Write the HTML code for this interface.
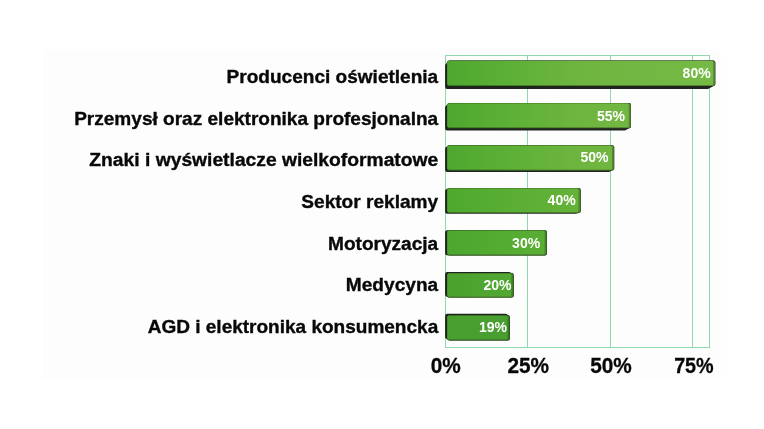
<!DOCTYPE html>
<html lang="pl"><head><meta charset="utf-8"><title>Wykres</title>
<style>
html,body{margin:0;padding:0;background:#fff;}
body{width:764px;height:429px;overflow:hidden;}
svg{display:block;}
text{font-family:"Liberation Sans",sans-serif;font-weight:bold;}
.lab{font-size:18.5px;fill:#080808;stroke:#080808;stroke-width:.35px;text-anchor:end;}
.val{font-size:15.1px;fill:#fff;text-anchor:end;}
.ax{font-size:21.6px;fill:#080808;stroke:#080808;stroke-width:.3px;text-anchor:middle;}
</style></head><body>
<svg width="764" height="429" viewBox="0 0 764 429">
<rect width="764" height="429" fill="#fff"/>
<rect x="42.5" y="49.5" width="678.5" height="329" fill="#fdfdfd"/>
<defs>
<linearGradient id="g0" x1="0" x2="1" y1="0" y2="0"><stop offset="0.000" stop-color="#4fa72f"/><stop offset="0.032" stop-color="#50a830"/><stop offset="0.234" stop-color="#5db036"/><stop offset="0.495" stop-color="#6eb53f"/><stop offset="0.809" stop-color="#74b844"/><stop offset="1.000" stop-color="#76ba46"/></linearGradient>
<linearGradient id="r0" x1="0" x2="1" y1="0" y2="0"><stop offset="0.000" stop-color="#3c7f24"/><stop offset="0.032" stop-color="#3d8024"/><stop offset="0.234" stop-color="#478629"/><stop offset="0.495" stop-color="#548a30"/><stop offset="0.809" stop-color="#588c34"/><stop offset="1.000" stop-color="#5a8d35"/></linearGradient>
<linearGradient id="o0" x1="0" x2="1" y1="0" y2="0"><stop offset="0.000" stop-color="#2b5c1a"/><stop offset="0.032" stop-color="#2c5c1a"/><stop offset="0.234" stop-color="#33611e"/><stop offset="0.495" stop-color="#3d6423"/><stop offset="0.809" stop-color="#406525"/><stop offset="1.000" stop-color="#416626"/></linearGradient>
<linearGradient id="g1" x1="0" x2="1" y1="0" y2="0"><stop offset="0.000" stop-color="#4fa72f"/><stop offset="0.047" stop-color="#50a830"/><stop offset="0.341" stop-color="#5db036"/><stop offset="0.722" stop-color="#6eb53f"/><stop offset="1.000" stop-color="#72b742"/></linearGradient>
<linearGradient id="r1" x1="0" x2="1" y1="0" y2="0"><stop offset="0.000" stop-color="#3c7f24"/><stop offset="0.047" stop-color="#3d8024"/><stop offset="0.341" stop-color="#478629"/><stop offset="0.722" stop-color="#548a30"/><stop offset="1.000" stop-color="#568b32"/></linearGradient>
<linearGradient id="o1" x1="0" x2="1" y1="0" y2="0"><stop offset="0.000" stop-color="#2b5c1a"/><stop offset="0.047" stop-color="#2c5c1a"/><stop offset="0.341" stop-color="#33611e"/><stop offset="0.722" stop-color="#3d6423"/><stop offset="1.000" stop-color="#3f6524"/></linearGradient>
<linearGradient id="g2" x1="0" x2="1" y1="0" y2="0"><stop offset="0.000" stop-color="#4fa72f"/><stop offset="0.052" stop-color="#50a830"/><stop offset="0.376" stop-color="#5db036"/><stop offset="0.795" stop-color="#6eb53f"/><stop offset="1.000" stop-color="#70b641"/></linearGradient>
<linearGradient id="r2" x1="0" x2="1" y1="0" y2="0"><stop offset="0.000" stop-color="#3c7f24"/><stop offset="0.052" stop-color="#3d8024"/><stop offset="0.376" stop-color="#478629"/><stop offset="0.795" stop-color="#548a30"/><stop offset="1.000" stop-color="#558a31"/></linearGradient>
<linearGradient id="o2" x1="0" x2="1" y1="0" y2="0"><stop offset="0.000" stop-color="#2b5c1a"/><stop offset="0.052" stop-color="#2c5c1a"/><stop offset="0.376" stop-color="#33611e"/><stop offset="0.795" stop-color="#3d6423"/><stop offset="1.000" stop-color="#3e6424"/></linearGradient>
<linearGradient id="g3" x1="0" x2="1" y1="0" y2="0"><stop offset="0.000" stop-color="#4fa82e"/><stop offset="0.065" stop-color="#50a92f"/><stop offset="0.470" stop-color="#59ae33"/><stop offset="0.995" stop-color="#65b239"/><stop offset="1.000" stop-color="#65b239"/></linearGradient>
<linearGradient id="r3" x1="0" x2="1" y1="0" y2="0"><stop offset="0.000" stop-color="#3c8023"/><stop offset="0.065" stop-color="#3d8023"/><stop offset="0.470" stop-color="#438427"/><stop offset="0.995" stop-color="#4d872b"/><stop offset="1.000" stop-color="#4d872b"/></linearGradient>
<linearGradient id="o3" x1="0" x2="1" y1="0" y2="0"><stop offset="0.000" stop-color="#2b5c19"/><stop offset="0.065" stop-color="#2c5d1a"/><stop offset="0.470" stop-color="#31601c"/><stop offset="0.995" stop-color="#37621f"/><stop offset="1.000" stop-color="#37621f"/></linearGradient>
<linearGradient id="g4" x1="0" x2="1" y1="0" y2="0"><stop offset="0.000" stop-color="#4da72e"/><stop offset="0.087" stop-color="#4ea82f"/><stop offset="0.630" stop-color="#55ac32"/><stop offset="1.000" stop-color="#5aad34"/></linearGradient>
<linearGradient id="r4" x1="0" x2="1" y1="0" y2="0"><stop offset="0.000" stop-color="#3b7f23"/><stop offset="0.087" stop-color="#3b7f23"/><stop offset="0.630" stop-color="#408326"/><stop offset="1.000" stop-color="#448428"/></linearGradient>
<linearGradient id="o4" x1="0" x2="1" y1="0" y2="0"><stop offset="0.000" stop-color="#2a5c19"/><stop offset="0.087" stop-color="#2b5c1a"/><stop offset="0.630" stop-color="#2f5f1b"/><stop offset="1.000" stop-color="#315f1d"/></linearGradient>
<linearGradient id="g5" x1="0" x2="1" y1="0" y2="0"><stop offset="0.000" stop-color="#4ba32e"/><stop offset="0.131" stop-color="#4ba32e"/><stop offset="0.944" stop-color="#51a731"/><stop offset="1.000" stop-color="#51a731"/></linearGradient>
<linearGradient id="r5" x1="0" x2="1" y1="0" y2="0"><stop offset="0.000" stop-color="#397c23"/><stop offset="0.131" stop-color="#397c23"/><stop offset="0.944" stop-color="#3d7f25"/><stop offset="1.000" stop-color="#3e7f25"/></linearGradient>
<linearGradient id="o5" x1="0" x2="1" y1="0" y2="0"><stop offset="0.000" stop-color="#295a19"/><stop offset="0.131" stop-color="#295a1a"/><stop offset="0.944" stop-color="#2c5c1b"/><stop offset="1.000" stop-color="#2d5c1b"/></linearGradient>
<linearGradient id="g6" x1="0" x2="1" y1="0" y2="0"><stop offset="0.000" stop-color="#489e2e"/><stop offset="0.139" stop-color="#489e2e"/><stop offset="1.000" stop-color="#489e2e"/></linearGradient>
<linearGradient id="r6" x1="0" x2="1" y1="0" y2="0"><stop offset="0.000" stop-color="#377823"/><stop offset="0.139" stop-color="#377823"/><stop offset="1.000" stop-color="#377823"/></linearGradient>
<linearGradient id="o6" x1="0" x2="1" y1="0" y2="0"><stop offset="0.000" stop-color="#285719"/><stop offset="0.139" stop-color="#285719"/><stop offset="1.000" stop-color="#285719"/></linearGradient>
</defs>
<g fill="#92d6aa" shape-rendering="crispEdges">
<rect x="445" y="55" width="265" height="1"/>
<rect x="445" y="347" width="265" height="1"/>
<rect x="445" y="55" width="1" height="293"/>
<rect x="527" y="55" width="1" height="293"/>
<rect x="610" y="55" width="1" height="293"/>
<rect x="692" y="55" width="1" height="293"/>
<rect x="709" y="55" width="1" height="293"/>
</g>
<polygon points="447.1,65.7 449.3,62.6 713.3,62.6 713.3,84.0 707.5,87.1 447.1,87.1" fill="#20241f" stroke="#20241f" stroke-width="4.0" stroke-linejoin="round"/>
<rect x="447.3" y="60.6" width="268.0" height="25.4" rx="2.0" fill="url(#o0)"/>
<rect x="447.3" y="60.9" width="267.3" height="24.8" rx="1.8" fill="url(#r0)"/>
<rect x="447.3" y="61.1" width="265.7" height="23.8" rx="1.5" fill="url(#g0)"/>
<g transform="translate(438.2,82.7) scale(1.0297,1)"><text class="lab" x="0" y="0">Producenci oświetlenia</text></g>
<g transform="translate(710.7,77.9) scale(.93,1)"><text class="val" x="0" y="0">80%</text></g>
<polygon points="447.1,107.5 449.3,105.1 629.0,105.1 629.0,126.2 624.5,128.6 447.1,128.6" fill="#20241f" stroke="#20241f" stroke-width="4.0" stroke-linejoin="round"/>
<rect x="447.3" y="103.1" width="183.7" height="25.1" rx="2.0" fill="url(#o1)"/>
<rect x="447.3" y="103.4" width="183.0" height="24.5" rx="1.8" fill="url(#r1)"/>
<rect x="447.3" y="103.6" width="181.4" height="23.5" rx="1.5" fill="url(#g1)"/>
<g transform="translate(438.2,124.5) scale(1.0302,1)"><text class="lab" x="0" y="0">Przemysł oraz elektronika profesjonalna</text></g>
<g transform="translate(625.1,121.3) scale(.93,1)"><text class="val" x="0" y="0">55%</text></g>
<polygon points="447.1,148.8 449.3,147.2 612.2,147.2 612.2,168.5 608.2,170.1 447.1,170.1" fill="#20241f" stroke="#20241f" stroke-width="4.0" stroke-linejoin="round"/>
<rect x="447.3" y="145.2" width="166.9" height="25.3" rx="2.0" fill="url(#o2)"/>
<rect x="447.3" y="145.5" width="166.2" height="24.7" rx="1.8" fill="url(#r2)"/>
<rect x="447.3" y="145.7" width="164.6" height="23.7" rx="1.5" fill="url(#g2)"/>
<g transform="translate(438.2,166.1) scale(1.0415,1)"><text class="lab" x="0" y="0">Znaki i wyświetlacze wielkoformatowe</text></g>
<g transform="translate(608.6,161.8) scale(.93,1)"><text class="val" x="0" y="0">50%</text></g>
<polygon points="447.1,190.8 449.3,190.1 578.7,190.1 578.7,211.1 575.2,211.8 447.1,211.8" fill="#20241f" stroke="#20241f" stroke-width="4.0" stroke-linejoin="round"/>
<rect x="447.3" y="188.1" width="133.4" height="25.0" rx="2.0" fill="url(#o3)"/>
<rect x="447.3" y="188.4" width="132.7" height="24.4" rx="1.8" fill="url(#r3)"/>
<rect x="447.3" y="188.6" width="131.1" height="23.4" rx="1.5" fill="url(#g3)"/>
<g transform="translate(438.2,208.0) scale(1.0324,1)"><text class="lab" x="0" y="0">Sektor reklamy</text></g>
<g transform="translate(575.7,204.5) scale(.93,1)"><text class="val" x="0" y="0">40%</text></g>
<polygon points="447.1,232.2 541.9,232.2 544.9,232.3 544.9,253.4 449.3,253.4 447.1,253.3" fill="#20241f" stroke="#20241f" stroke-width="4.0" stroke-linejoin="round"/>
<rect x="447.3" y="230.3" width="99.6" height="25.1" rx="2.0" fill="url(#o4)"/>
<rect x="447.3" y="230.6" width="98.9" height="24.5" rx="1.8" fill="url(#r4)"/>
<rect x="447.3" y="230.8" width="97.3" height="23.5" rx="1.5" fill="url(#g4)"/>
<g transform="translate(438.2,249.7) scale(1.0310,1)"><text class="lab" x="0" y="0">Motoryzacja</text></g>
<g transform="translate(540.2,248.2) scale(.93,1)"><text class="val" x="0" y="0">30%</text></g>
<polygon points="447.1,274.1 509.1,274.1 511.7,275.1 511.7,295.6 449.3,295.6 447.1,294.6" fill="#20241f" stroke="#20241f" stroke-width="4.0" stroke-linejoin="round"/>
<rect x="447.3" y="273.1" width="66.4" height="24.5" rx="2.0" fill="url(#o5)"/>
<rect x="447.3" y="273.4" width="65.7" height="23.9" rx="1.8" fill="url(#r5)"/>
<rect x="447.3" y="273.6" width="64.1" height="22.9" rx="1.5" fill="url(#g5)"/>
<g transform="translate(438.2,291.1) scale(1.0328,1)"><text class="lab" x="0" y="0">Medycyna</text></g>
<g transform="translate(511.6,289.8) scale(.93,1)"><text class="val" x="0" y="0">20%</text></g>
<polygon points="447.1,315.7 505.5,315.7 507.9,317.2 507.9,338.4 449.3,338.4 447.1,336.9" fill="#20241f" stroke="#20241f" stroke-width="4.0" stroke-linejoin="round"/>
<rect x="447.3" y="315.2" width="62.6" height="25.2" rx="2.0" fill="url(#o6)"/>
<rect x="447.3" y="315.5" width="61.9" height="24.6" rx="1.8" fill="url(#r6)"/>
<rect x="447.3" y="315.7" width="60.3" height="23.6" rx="1.5" fill="url(#g6)"/>
<g transform="translate(438.2,332.7) scale(1.0280,1)"><text class="lab" x="0" y="0">AGD i elektronika konsumencka</text></g>
<g transform="translate(507.0,332.2) scale(.93,1)"><text class="val" x="0" y="0">19%</text></g>
<g transform="translate(445.8,373.3) scale(0.962,1)"><text class="ax" x="0" y="0">0%</text></g>
<g transform="translate(528.3,373.3) scale(0.962,1)"><text class="ax" x="0" y="0">25%</text></g>
<g transform="translate(611.0,373.3) scale(0.962,1)"><text class="ax" x="0" y="0">50%</text></g>
<g transform="translate(693.9,373.3) scale(0.915,1)"><text class="ax" x="0" y="0">75%</text></g>
</svg></body></html>
